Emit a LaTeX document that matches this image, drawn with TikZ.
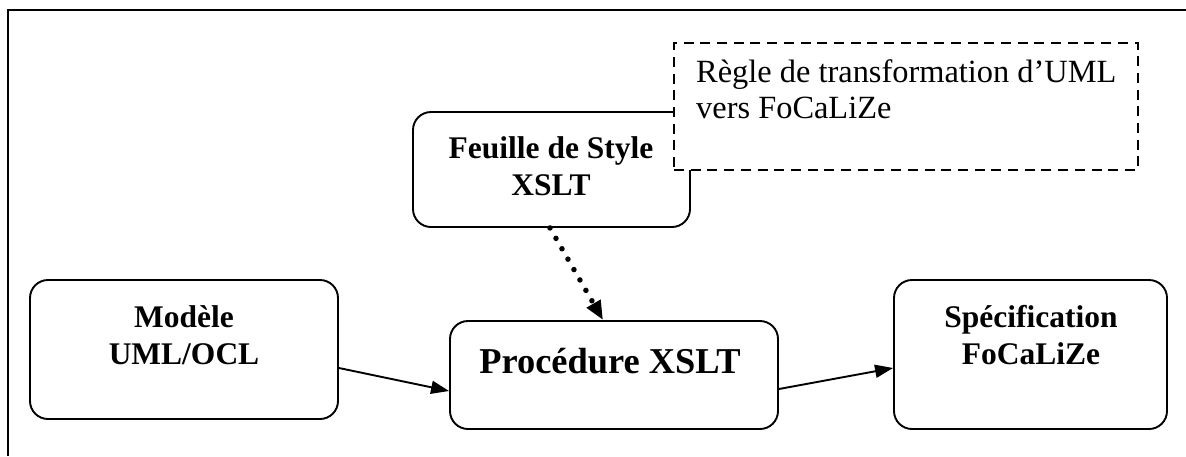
\documentclass[tikz,border=0pt]{standalone}
\usepackage{fontspec}
\setmainfont{Liberation Serif}
\usetikzlibrary{arrows.meta}
\begin{document}
\begin{tikzpicture}[x=1pt,y=-1pt,
  box/.style={draw, line width=1.9pt, rounded corners=18pt, fill=white, inner sep=0pt},
  note/.style={draw, line width=2pt, dash pattern=on 10pt off 6.7pt, fill=white, inner sep=0pt},
  lbl/.style={anchor=base, inner sep=0pt, align=center, font=\bfseries\fontsize{31.5}{37}\selectfont},
  flow/.style={line width=1.9pt, -{Triangle[length=18pt,width=13pt]}},
  dots/.style={line width=5.5pt, line cap=round, dash pattern=on 0pt off 12pt, -{Triangle[length=19pt,width=15pt]}}]
\useasboundingbox (0,0) rectangle (1186,456);
% frame edges
\draw[line width=1.9pt] (1186,10) -- (8,10) -- (8,456);
% boxes
\node[box, minimum width=277pt, minimum height=115pt] (feu) at (551.5,169.5) {};
\node[note, minimum width=464pt, minimum height=127pt] (rule) at (906,106.5) {};
\node[box, minimum width=308pt, minimum height=139pt] (mod) at (184,349.5) {};
\node[box, minimum width=328pt, minimum height=108pt] (proc) at (614,375) {};
\node[box, minimum width=273pt, minimum height=149pt] (spec) at (1030.5,354.5) {};
% texts (two-line labels sit on the baseline of their last line)
\node[lbl] (feut) at (551,195) {Feuille de Style\\XSLT};
\node[anchor=base west, inner sep=0pt, align=left, font=\fontsize{32.4}{36}\selectfont] (rulet) at (696,118) {Règle de transformation d’UML\\vers FoCaLiZe};
\node[lbl] (modt) at (184,364) {Modèle\\UML/OCL};
\node[lbl, font=\bfseries\fontsize{36.4}{42}\selectfont] (proct) at (610,373) {Procédure XSLT};
\node[lbl] (spect) at (1031,364) {Spécification\\FoCaLiZe};
% connectors
\draw[flow] ([yshift=-18.5pt]mod.east) -- ([yshift=-16pt]proc.west);
\draw[flow] ([yshift=-14pt]proc.east) -- ([yshift=-13.5pt]spec.west);
\draw[dots] ([xshift=-1.5pt]feu.south) -- ([xshift=-11pt]proc.north);
\end{tikzpicture}
\end{document}
